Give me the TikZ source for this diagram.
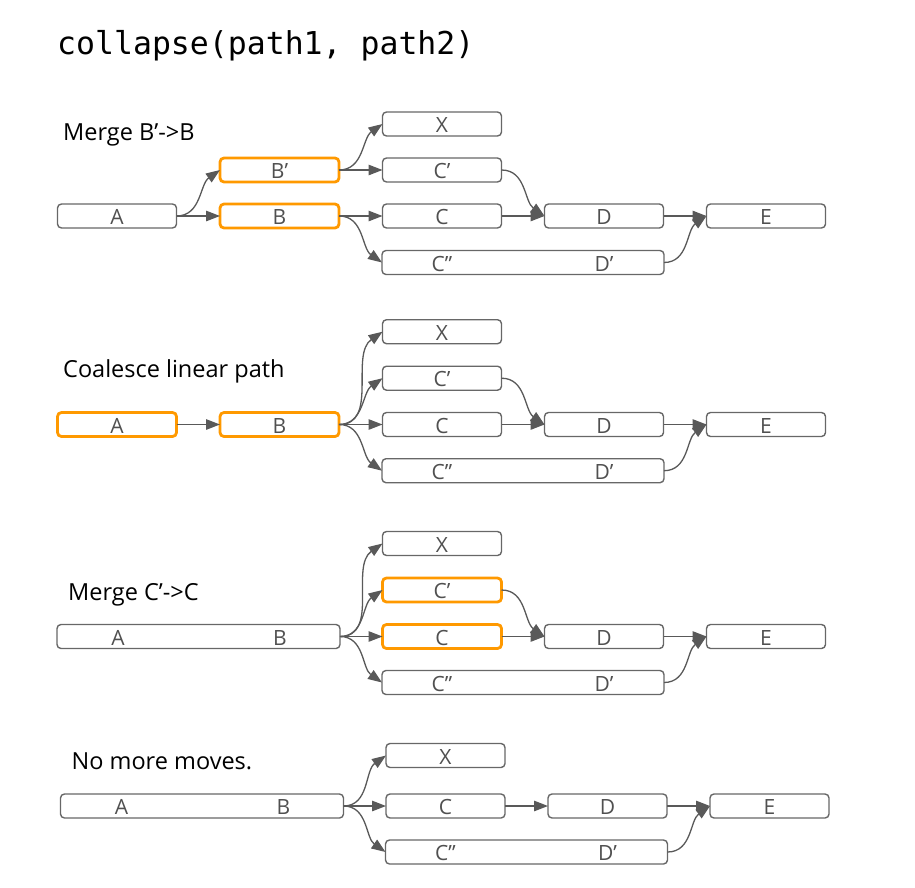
\documentclass[tikz,border=0pt]{standalone}
\usepackage{fontspec}
\setmainfont{Open Sans}
\newfontfamily\codefont{DejaVu Sans Mono}
\usetikzlibrary{arrows.meta}
\definecolor{linegray}{HTML}{595959}
\definecolor{boxgray}{HTML}{676767}
\definecolor{txtgray}{HTML}{505050}
\definecolor{hiorange}{HTML}{FF9900}
\begin{document}
\begin{tikzpicture}[x=1pt,y=-1pt,
  box/.style={draw=boxgray, line width=1.4pt, rounded corners=4pt, minimum width=119pt, minimum height=24pt, inner sep=0pt, outer sep=0pt, text=txtgray, font=\fontsize{21}{21}\selectfont, text height=17pt, text depth=0pt},
  hl/.style={draw=hiorange, line width=2.8pt},
  wide/.style={minimum width=282pt},
  lbl/.style={inner sep=0pt, text=txtgray, font=\fontsize{21}{21}\selectfont, text height=17pt, text depth=0pt},
  ttl/.style={anchor=base west, inner sep=0pt, font=\fontsize{23.5}{23.5}\selectfont},
  flow/.style={draw=linegray, line width=1.3pt, -{Triangle[length=14pt,width=10.5pt]}},
]
\useasboundingbox (0,0) rectangle (915,888);
\node[anchor=base west, inner sep=0pt, font=\codefont\fontsize{31.5}{31.5}\selectfont] (title) at (57,55) {collapse(path1, path2)};

% ---------- Panel 1 ----------
\node[ttl] (t1) at (63,140) {Merge B’->B};
\node[box] (a1) at (117,216) {A};
\node[box,hl] (a2) at (279.5,170) {B’};
\node[box,hl] (a3) at (279.5,216) {B};
\node[box] (ax) at (442,124) {X};
\node[box] (ac1) at (442,170) {C’};
\node[box] (ac) at (442,216) {C};
\node[box,wide] (acd) at (523,262.5) {};
\node[lbl] (acdl1) at (442,262.5) {C”};
\node[lbl] (acdl2) at (604,262.5) {D’};
\node[box] (ad) at (604,216) {D};
\node[box] (ae) at (766,216) {E};
\draw[flow] (a1.east) to[out=0,in=215] (a2.west);
\draw[flow] (a1.east) -- (a3.west);
\draw[flow] (a2.east) to[out=0,in=215] (ax.west);
\draw[flow] (a2.east) -- (ac1.west);
\draw[flow] (a3.east) -- (ac.west);
\draw[flow] (a3.east) to[out=0,in=145] (acd.west);
\draw[flow] (ac1.east) to[out=0,in=145] (ad.west);
\draw[flow] (ac.east) -- (ad.west);
\draw[flow] (ad.east) -- (ae.west);
\draw[flow] (acd.east) to[out=0,in=215] (ae.west);

% ---------- Panel 2 ----------
\node[ttl] (t2) at (63,377) {Coalesce linear path};
\node[box,hl] (b1) at (117,424.5) {A};
\node[box,hl] (b3) at (279.5,424.5) {B};
\node[box] (bx) at (442,331.7) {X};
\node[box] (bc1) at (442,378.2) {C’};
\node[box] (bc) at (442,424.5) {C};
\node[box,wide] (bcd) at (523,470.7) {};
\node[lbl] (bcdl1) at (442,470.7) {C”};
\node[lbl] (bcdl2) at (604,470.7) {D’};
\node[box] (bd) at (604,424.5) {D};
\node[box] (be) at (766,424.5) {E};
\draw[flow] (b1.east) -- (b3.west);
\draw[flow] (b3.east) to[out=0,in=215] (bx.west);
\draw[flow] (b3.east) to[out=0,in=215] (bc1.west);
\draw[flow] (b3.east) -- (bc.west);
\draw[flow] (b3.east) to[out=0,in=145] (bcd.west);
\draw[flow] (bc1.east) to[out=0,in=145] (bd.west);
\draw[flow] (bc.east) -- (bd.west);
\draw[flow] (bd.east) -- (be.west);
\draw[flow] (bcd.east) to[out=0,in=215] (be.west);

% ---------- Panel 3 ----------
\node[ttl] (t3) at (68,600) {Merge C’->C};
\node[box,wide,minimum width=283pt] (cab) at (198.5,636.5) {};
\node[lbl] (cabl1) at (118,636.5) {A};
\node[lbl] (cabl2) at (280,636.5) {B};
\node[box] (cx) at (442,543.5) {X};
\node[box,hl] (cc1) at (442,590) {C’};
\node[box,hl] (cc) at (442,636.5) {C};
\node[box,wide] (ccd) at (523,682.5) {};
\node[lbl] (ccdl1) at (442,682.5) {C”};
\node[lbl] (ccdl2) at (604,682.5) {D’};
\node[box] (cd) at (604,636.5) {D};
\node[box] (ce) at (766,636.5) {E};
\draw[flow] (cab.east) to[out=0,in=215] (cx.west);
\draw[flow] (cab.east) to[out=0,in=215] (cc1.west);
\draw[flow] (cab.east) -- (cc.west);
\draw[flow] (cab.east) to[out=0,in=145] (ccd.west);
\draw[flow] (cc1.east) to[out=0,in=145] (cd.west);
\draw[flow] (cc.east) -- (cd.west);
\draw[flow] (cd.east) -- (ce.west);
\draw[flow] (ccd.east) to[out=0,in=215] (ce.west);

% ---------- Panel 4 ----------
\node[ttl] (t4) at (71.5,769.3) {No more moves.};
\node[box,wide,minimum width=283pt] (dab) at (202,806) {};
\node[lbl] (dabl1) at (121.5,806) {A};
\node[lbl] (dabl2) at (283.5,806) {B};
\node[box] (dx) at (445.5,755.5) {X};
\node[box] (dc) at (445.5,806) {C};
\node[box,wide] (dcd) at (526.5,852) {};
\node[lbl] (dcdl1) at (445.5,852) {C”};
\node[lbl] (dcdl2) at (607.5,852) {D’};
\node[box] (dd) at (607.5,806) {D};
\node[box] (de) at (769.5,806) {E};
\draw[flow] (dab.east) to[out=0,in=215] (dx.west);
\draw[flow] (dab.east) -- (dc.west);
\draw[flow] (dab.east) to[out=0,in=145] (dcd.west);
\draw[flow] (dc.east) -- (dd.west);
\draw[flow] (dd.east) -- (de.west);
\draw[flow] (dcd.east) to[out=0,in=215] (de.west);
\end{tikzpicture}
\end{document}
